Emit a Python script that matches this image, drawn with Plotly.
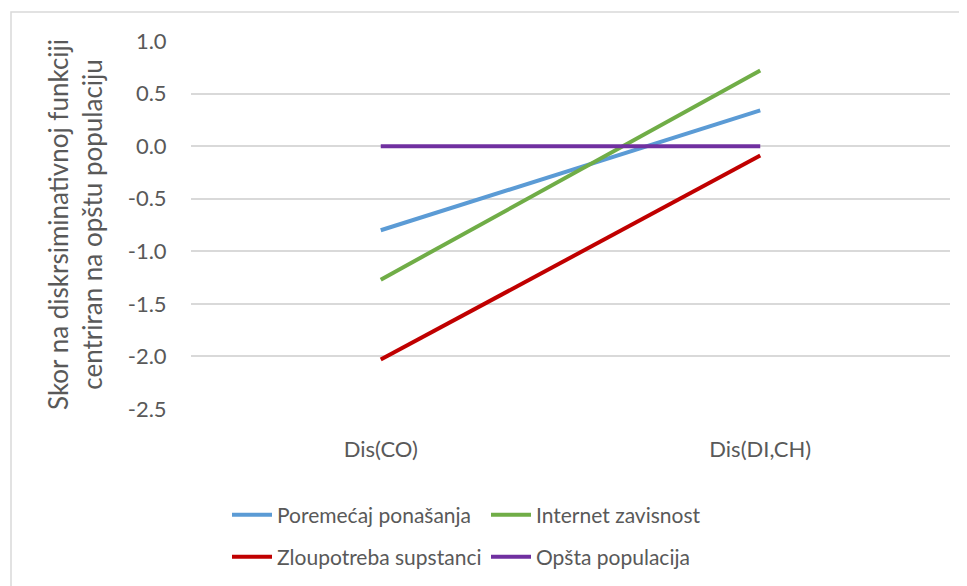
import plotly.graph_objects as go

categories = ["Dis(CO)", "Dis(DI,CH)"]
poremecaj = [-0.80, 0.34]
internet = [-1.27, 0.72]
zloupotreba = [-2.03, -0.09]
opsta = [0.0, 0.0]
y_ticks = [1.0, 0.5, 0.0, -0.5, -1.0, -1.5, -2.0, -2.5]
y_tick_labels = ["1.0", "0.5", "0.0", "-0.5", "-1.0", "-1.5", "-2.0", "-2.5"]
y_title = "Skor na diskrsiminativnoj funkciji<br>centriran na opštu populaciju"

FONT = "Lato, Liberation Sans, sans-serif"
GREY = "#595959"

fig = go.Figure()
series = [
    ("Poremećaj ponašanja", poremecaj, "#5B9BD5", "legend"),
    ("Internet zavisnost", internet, "#70AD47", "legend"),
    ("Zloupotreba supstanci", zloupotreba, "#C00000", "legend2"),
    ("Opšta populacija", opsta, "#7030A0", "legend2"),
]
for name, vals, col, lg in series:
    fig.add_trace(go.Scatter(x=categories, y=vals, name=name, mode="lines",
                             line=dict(color=col, width=4), legend=lg))

OFF = 8  # page offset of the figure in the browser window
W, H = 967, 586
# plot area in screen pixels: x 191..950, y 41..409
L, T = 191 - OFF, 41 - OFF
R = W - (950 - OFF)
B = H - (409 - OFF)
pw, ph = W - L - R, H - T - B

def px_x(p):
    return (p - OFF - L) / pw

def px_y(p):
    return (H - B - (p - OFF)) / ph

legend_common = dict(orientation="h", xanchor="left", yanchor="middle",
                     font=dict(family=FONT, size=21, color=GREY),
                     bgcolor="rgba(0,0,0,0)", entrywidth=204, entrywidthmode="pixels",
                     tracegroupgap=0, itemwidth=40)

fig.update_layout(
    width=W, height=H,
    margin=dict(l=L, r=R, t=T, b=B, autoexpand=False),
    paper_bgcolor="white", plot_bgcolor="white",
    font=dict(family=FONT, color=GREY),
    legend=dict(x=px_x(227), y=px_y(515), **legend_common),
    legend2=dict(x=px_x(227), y=px_y(557), **legend_common),
    xaxis=dict(type="category", showgrid=False, zeroline=False, showline=False,
               tickfont=dict(family=FONT, size=22, color=GREY), ticks="outside",
               ticklen=21, tickcolor="rgba(0,0,0,0)", range=[-0.5, 1.5]),
    yaxis=dict(range=[-2.5, 1.0], tickvals=y_ticks, ticktext=y_tick_labels,
               showgrid=True, gridcolor="#D9D9D9", gridwidth=2,
               zeroline=False, showline=False, ticks="outside", ticklen=19,
               tickcolor="rgba(0,0,0,0)",
               tickfont=dict(family=FONT, size=22, color=GREY)),
    annotations=[dict(text=y_title, xref="paper", yref="paper", x=px_x(75), y=0.5,
                      xanchor="center", yanchor="middle", textangle=-90, showarrow=False,
                      font=dict(family=FONT, size=26, color=GREY))],
    shapes=[dict(type="rect", xref="paper", yref="paper",
                 x0=px_x(11), x1=px_x(990), y0=px_y(600), y1=px_y(12),
                 line=dict(color="#D9D9D9", width=1.5), fillcolor="rgba(0,0,0,0)")],
    showlegend=True,
)

fig.write_html("out.html")
